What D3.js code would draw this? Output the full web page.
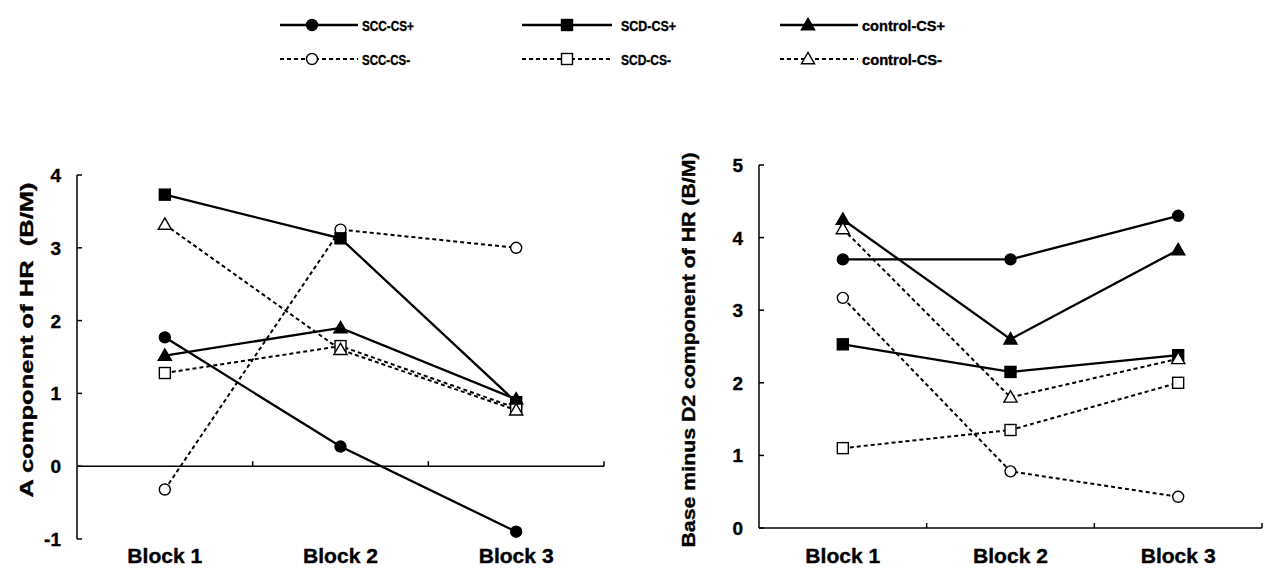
<!DOCTYPE html>
<html>
<head>
<meta charset="utf-8">
<script src="https://cdn.jsdelivr.net/npm/d3@7"></script>
<style>
  body { margin: 0; background: #fff; }
  svg { display: block; font-family: "Liberation Sans", Arial, sans-serif; font-weight: bold; }
  svg text { stroke: #000; stroke-width: 0.35px; }
</style>
</head>
<body>
<div id="chart"></div>
<script>
// categories and series
const blocks = ['Block 1', 'Block 2', 'Block 3'];
const seriesNames = ['SCC-CS+', 'SCC-CS-', 'SCD-CS+', 'SCD-CS-', 'control-CS+', 'control-CS-'];
const seriesShapes = ['circle', 'circle', 'square', 'square', 'triangle', 'triangle'];
const seriesFilled = [true, false, true, false, true, false];

// left panel: A component of HR
const leftValues = [
  [1.77, 0.27, -0.9],
  [-0.32, 3.25, 3.0],
  [3.73, 3.13, 0.88],
  [1.28, 1.65, 0.8],
  [1.52, 1.9, 0.92],
  [3.32, 1.6, 0.77]
];
const leftTicks = [-1, 0, 1, 2, 3, 4];

// right panel: Base minus D2 component of HR
const rightValues = [
  [3.7, 3.7, 4.3],
  [3.17, 0.78, 0.43],
  [2.53, 2.15, 2.38],
  [1.1, 1.35, 2.0],
  [4.25, 2.6, 3.83],
  [4.12, 1.8, 2.33]
];
const rightTicks = [0, 1, 2, 3, 4, 5];

const svg = d3.select('#chart').append('svg')
  .attr('width', 1274)
  .attr('height', 576);

function marker(g, shape, filled, x, y) {
  const fill = filled ? '#000' : '#fff';
  if (shape === 'circle') {
    g.append('circle').attr('cx', x).attr('cy', y).attr('r', 5.5)
      .attr('fill', fill).attr('stroke', '#000').attr('stroke-width', 1.4);
  } else if (shape === 'square') {
    g.append('rect').attr('x', x - 5.5).attr('y', y - 5.5).attr('width', 11).attr('height', 11)
      .attr('fill', fill).attr('stroke', '#000').attr('stroke-width', 1.4);
  } else {
    g.append('path').attr('d', d3.symbol(d3.symbolTriangle, 75)())
      .attr('transform', `translate(${x},${y + 1})`)
      .attr('fill', fill).attr('stroke', '#000').attr('stroke-width', 1.4);
  }
}

function panel(opts) {
  const g = svg.append('g');
  const x = d3.scaleBand().domain(blocks).range([opts.x0, opts.x1]);
  const y = d3.scaleLinear().domain(opts.domain).range([opts.yBottom, opts.yTop]);

  // y axis, ticks pointing inward
  g.append('line').attr('x1', opts.x0).attr('x2', opts.x0)
    .attr('y1', y(opts.domain[0])).attr('y2', y(opts.domain[1]))
    .attr('stroke', '#000').attr('stroke-width', 1.5);
  opts.ticks.forEach(t => {
    g.append('line').attr('x1', opts.x0).attr('x2', opts.x0 + 5)
      .attr('y1', y(t)).attr('y2', y(t)).attr('stroke', '#000').attr('stroke-width', 1.5);
    g.append('text').attr('x', opts.x0 - 16).attr('y', y(t) + 7)
      .attr('text-anchor', 'end').attr('font-size', 19).text(t);
  });

  // x axis at zero
  const y0 = y(0);
  g.append('line').attr('x1', opts.x0).attr('x2', opts.x1)
    .attr('y1', y0).attr('y2', y0).attr('stroke', '#000').attr('stroke-width', 1.5);
  blocks.forEach(b => {
    const bx = x(b) + x.bandwidth();
    g.append('line').attr('x1', bx).attr('x2', bx)
      .attr('y1', y0).attr('y2', y0 - 5).attr('stroke', '#000').attr('stroke-width', 1.5);
    g.append('text').attr('x', x(b) + x.bandwidth() / 2).attr('y', opts.labelY)
      .attr('text-anchor', 'middle').attr('font-size', 20)
      .attr('textLength', 75).attr('lengthAdjust', 'spacingAndGlyphs').text(b);
  });

  // axis title
  g.append('text')
    .attr('transform', `translate(${opts.titleX},${opts.titleY}) rotate(-90)`)
    .attr('text-anchor', 'middle').attr('font-size', 18)
    .attr('textLength', opts.titleLen).attr('lengthAdjust', 'spacingAndGlyphs')
    .attr('xml:space', 'preserve')
    .text(opts.title);

  // lines
  const line = d3.line()
    .x((d, i) => x(blocks[i]) + x.bandwidth() / 2)
    .y(d => y(d));
  opts.values.forEach((vals, s) => {
    g.append('path').attr('d', line(vals))
      .attr('fill', 'none').attr('stroke', '#000')
      .attr('stroke-width', seriesFilled[s] ? 2.3 : 2)
      .attr('stroke-dasharray', seriesFilled[s] ? null : '4,3');
  });
  opts.values.forEach((vals, s) => {
    vals.forEach((v, i) => {
      marker(g, seriesShapes[s], seriesFilled[s], x(blocks[i]) + x.bandwidth() / 2, y(v));
    });
  });
}

panel({
  x0: 77, x1: 604, yTop: 175, yBottom: 539, domain: [-1, 4], ticks: leftTicks,
  values: leftValues, labelY: 563, titleX: 33, titleY: 340, titleLen: 315,
  title: 'A component of HR  (B/M)'
});

panel({
  x0: 759, x1: 1262, yTop: 165, yBottom: 528, domain: [0, 5], ticks: rightTicks,
  values: rightValues, labelY: 563, titleX: 695, titleY: 350, titleLen: 395,
  title: 'Base minus D2 component of HR (B/M)'
});

// legend
const legendCols = [
  { lx0: 280, lx1: 358, mx: 312, tx: 362 },
  { lx0: 522, lx1: 612, mx: 567, tx: 621 },
  { lx0: 780, lx1: 858, mx: 808, tx: 862 }
];
const legendTextLen = [52, 48, 55, 50, 83, 80];
const legendRows = [25, 59];
const lg = svg.append('g');
seriesNames.forEach((name, s) => {
  const col = legendCols[Math.floor(s / 2)];
  const ry = legendRows[s % 2];
  lg.append('line').attr('x1', col.lx0).attr('x2', col.lx1).attr('y1', ry).attr('y2', ry)
    .attr('stroke', '#000').attr('stroke-width', seriesFilled[s] ? 2.3 : 1.8)
    .attr('stroke-dasharray', seriesFilled[s] ? null : '4,3');
  marker(lg, seriesShapes[s], seriesFilled[s], col.mx, ry);
  lg.append('text').attr('x', col.tx).attr('y', ry + 6)
    .attr('font-size', 15).attr('textLength', legendTextLen[s])
    .attr('lengthAdjust', 'spacingAndGlyphs').text(name);
});
</script>
</body>
</html>
